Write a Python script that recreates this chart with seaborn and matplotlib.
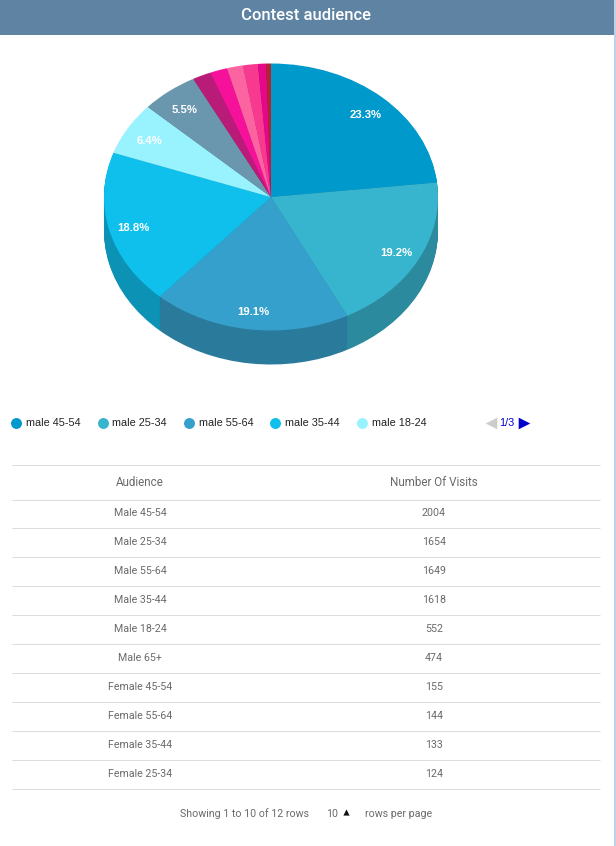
import matplotlib
matplotlib.use("Agg")
import matplotlib.pyplot as plt
import seaborn as sns

# Table rows (the last two segments are not on page 1 of the table)
audience = ["Male 45-54", "Male 25-34", "Male 55-64", "Male 35-44", "Male 18-24",
            "Male 65+", "Female 45-54", "Female 55-64", "Female 35-44", "Female 25-34"]
visits = [2004, 1654, 1649, 1618, 552, 474, 155, 144, 133, 124]
hidden_visits = [68, 40]
legend_labels = ["male 45-54", "male 25-34", "male 55-64", "male 35-44", "male 18-24"]
slice_colors = ["#0099cc", "#38b5ce", "#36a0cc", "#0fc0ed", "#99f3ff", "#6a97ae",
                "#b81c78", "#f5119a", "#fb64a0", "#f73a90", "#e5088a", "#b5232f"]

W, H = 616, 846
CX, CY, RX, RY, DEPTH = 271, 197, 167, 133.5, 34

sns.set_theme(style="white")
plt.rcParams["font.family"] = ["Roboto", "DejaVu Sans"]

fig = plt.figure(figsize=(W / 100, H / 100), dpi=100, facecolor="white")

# page layer in pixel coordinates
page = fig.add_axes([0, 0, 1, 1], zorder=2)
page.set_xlim(0, W)
page.set_ylim(H, 0)
page.axis("off")
page.patch.set_alpha(0)

page.axvspan(614, W, color="#bdd2e6", lw=0)
page.fill_between([0, 614], 0, 35, color="#5f84a3", lw=0)
page.text(306, 16, "Contest audience", color="white", fontsize=12,
          ha="center", va="center", fontweight="medium")

# pie layer: unit radius stretched to the ellipse, stacked pies make the side wall
left, right, top, bottom = 90, 452, 50, 380
pie_ax = fig.add_axes([left / W, 1 - bottom / H, (right - left) / W, (bottom - top) / H], zorder=1)
values = visits + hidden_visits
palette = sns.color_palette(slice_colors)
dark = [tuple(c * 0.76 for c in col) for col in palette]

for step in range(DEPTH, 0, -1):
    pie_ax.pie(values, colors=dark, startangle=90, counterclock=False,
               center=(0, -step / RY), wedgeprops={"linewidth": 0})


def pct_label(p):
    return f"{p:.1f}%" if p > 5 else ""


_, _, autotexts = pie_ax.pie(values, colors=palette, startangle=90, counterclock=False,
                             autopct=pct_label, pctdistance=0.85,
                             wedgeprops={"linewidth": 0})
for t in autotexts:
    t.set(color="white", fontsize=8.2, fontweight="bold", family="Liberation Sans")
    # labels sit a bit lower than the true slice centre in the reference
    tx, ty = t.get_position()
    t.set_position((tx, ty - 2.5 / RY))

pie_ax.set_aspect("auto")
pie_ax.set_xlim((left - CX) / RX, (right - CX) / RX)
pie_ax.set_ylim((CY - bottom) / RY, (CY - top) / RY)
pie_ax.axis("off")

# legend
dot_x = [16, 102.5, 189, 275, 362]
for x, label, col in zip(dot_x, legend_labels, palette):
    page.scatter([x], [423], s=62, color=col, linewidths=0)
    page.text(x + 10, 423.5, label, fontsize=7.8, color="#222222", va="center",
              family="Liberation Sans")
page.scatter([491], [423], marker="<", s=70, color="#cccccc", linewidths=0)
page.scatter([524], [423], marker=">", s=70, color="#0000cc", linewidths=0)
page.text(507, 423.5, "1/3", fontsize=7.8, color="#0000cc", ha="center", va="center",
          family="Liberation Sans")

# table
COL_A, COL_B = 140, 434
TXT = "#6a6a6a"
LINE = "#dddddd"
page.hlines([465, 500], 12, 600, color=LINE, lw=0.75)
page.text(COL_A, 483, "Audience", fontsize=8.4, color=TXT, ha="center", va="center")
page.text(COL_B, 483, "Number Of Visits", fontsize=8.4, color=TXT, ha="center", va="center")
for i, (name, n) in enumerate(zip(audience, visits)):
    y = 513 + i * 29
    page.text(COL_A, y, name, fontsize=7.7, color=TXT, ha="center", va="center")
    page.text(COL_B, y, str(n), fontsize=7.7, color=TXT, ha="center", va="center")
    page.hlines(528.5 + i * 29, 12, 600, color=LINE, lw=0.75)

# pagination footer
page.text(244, 814, "Showing 1 to 10 of 12 rows", fontsize=7.7, color=TXT, ha="center", va="center")
page.text(332, 814, "10", fontsize=7.7, color=TXT, ha="center", va="center")
page.scatter([346], [812], marker="^", s=20, color="#111111", linewidths=0)
page.text(399, 814, "rows per page", fontsize=7.7, color=TXT, ha="center", va="center")

fig.savefig("out.png", dpi=100)
